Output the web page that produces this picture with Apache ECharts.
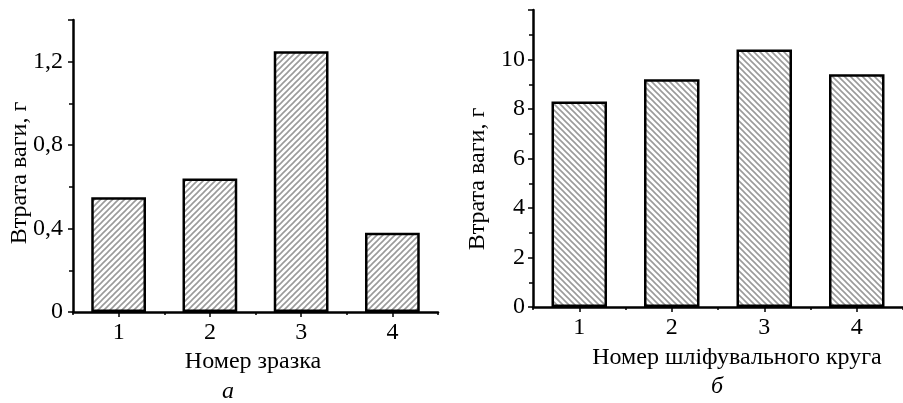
<!DOCTYPE html>
<html><head><meta charset="utf-8">
<script src="https://cdn.jsdelivr.net/npm/echarts@6/dist/echarts.min.js"></script>
<style>html,body{margin:0;padding:0;background:#fff}#c{width:903px;height:403px}</style>
</head><body><div id="c"></div>
<script>
const categoriesA = ['1', '2', '3', '4'];
const valuesA = [0.55, 0.64, 1.25, 0.38];
const categoriesB = ['1', '2', '3', '4'];
const valuesB = [8.3, 9.2, 10.4, 9.4];
const yNameA = 'Втрата ваги, г';
const xNameA = 'Номер зразка';
const yNameB = 'Втрата ваги, г';
const xNameB = 'Номер шліфувального круга';
const captionA = 'а';
const captionB = 'б';

function hatch(dir) {
  const s = 6;
  const c = document.createElement('canvas');
  c.width = s; c.height = s;
  const g = c.getContext('2d');
  g.fillStyle = '#fff'; g.fillRect(0, 0, s, s);
  g.strokeStyle = '#9a9a9a'; g.lineWidth = 1.6;
  g.beginPath();
  if (dir > 0) {
    g.moveTo(-1, s + 1); g.lineTo(s + 1, -1);
    g.moveTo(-1, 1); g.lineTo(1, -1);
    g.moveTo(s - 1, s + 1); g.lineTo(s + 1, s - 1);
  } else {
    g.moveTo(-1, -1); g.lineTo(s + 1, s + 1);
    g.moveTo(s - 1, -1); g.lineTo(s + 1, 1);
    g.moveTo(-1, s - 1); g.lineTo(1, s + 1);
  }
  g.stroke();
  return c;
}

const font = 'Liberation Serif';
const fmt = v => String(Math.round(v * 100) / 100).replace('.', ',');
const axisLine = { show: true, lineStyle: { color: '#000', width: 2.5 } };

function yAxis(gi, max, interval, margin) {
  return {
    type: 'value', gridIndex: gi, min: 0, max: max, interval: interval,
    axisLine: axisLine,
    axisTick: { show: true, length: 5, lineStyle: { color: '#000', width: 1.5 } },
    minorTick: { show: true, splitNumber: 2, length: 4, lineStyle: { color: '#000', width: 1.5 } },
    axisLabel: { color: '#000', fontFamily: font, fontSize: 24, margin: margin, formatter: fmt, showMaxLabel: false },
    splitLine: { show: false }
  };
}
function xCat(gi, cats) {
  return {
    type: 'category', gridIndex: gi, data: cats,
    axisLine: axisLine,
    axisTick: { show: true, alignWithLabel: true, length: 5, lineStyle: { color: '#000', width: 1.5 } },
    axisLabel: { color: '#000', fontFamily: font, fontSize: 24, margin: 9 }
  };
}
function xTicks(gi) {
  return {
    type: 'value', gridIndex: gi, min: 0.5, max: 4.5, interval: 0.5, position: 'bottom',
    axisLine: { show: false }, axisLabel: { show: false }, splitLine: { show: false },
    axisTick: { show: true, length: 3, lineStyle: { color: '#000', width: 1.5 } }
  };
}
function bar(xi, yi, data, dir) {
  return {
    type: 'bar', xAxisIndex: xi, yAxisIndex: yi, data: data, barWidth: '60%',
    itemStyle: { color: { image: hatch(dir), repeat: 'repeat' }, borderColor: '#000', borderWidth: 2.5 },
    silent: true
  };
}
function label(text, x, y, italic, rot) {
  return { type: 'text', x: x, y: y, rotation: rot || 0,
    style: { text: text, fontFamily: font, fontSize: 24, fontStyle: italic ? 'italic' : 'normal', fill: '#000', align: 'center', verticalAlign: 'middle' } };
}

const chart = echarts.init(document.getElementById('c'), null, { renderer: 'canvas' });
chart.setOption({
  animation: false,
  backgroundColor: '#fff',
  grid: [
    { left: 73, top: 20, width: 365, height: 292 },
    { left: 533, top: 10, width: 372, height: 297 }
  ],
  xAxis: [xCat(0, categoriesA), xCat(1, categoriesB), xTicks(0), xTicks(1)],
  yAxis: [yAxis(0, 1.4, 0.4, 10), yAxis(1, 12, 2, 8)],
  series: [bar(0, 0, valuesA, 1), bar(1, 1, valuesB, -1)],
  graphic: [
    label(yNameA, 20, 173, false, Math.PI / 2),
    label(yNameB, 478, 179, false, Math.PI / 2),
    label(xNameA, 253, 362, false),
    label(captionA, 228, 392, true),
    label(xNameB, 737, 358, false),
    label(captionB, 717, 387, true)
  ]
});
</script></body></html>
